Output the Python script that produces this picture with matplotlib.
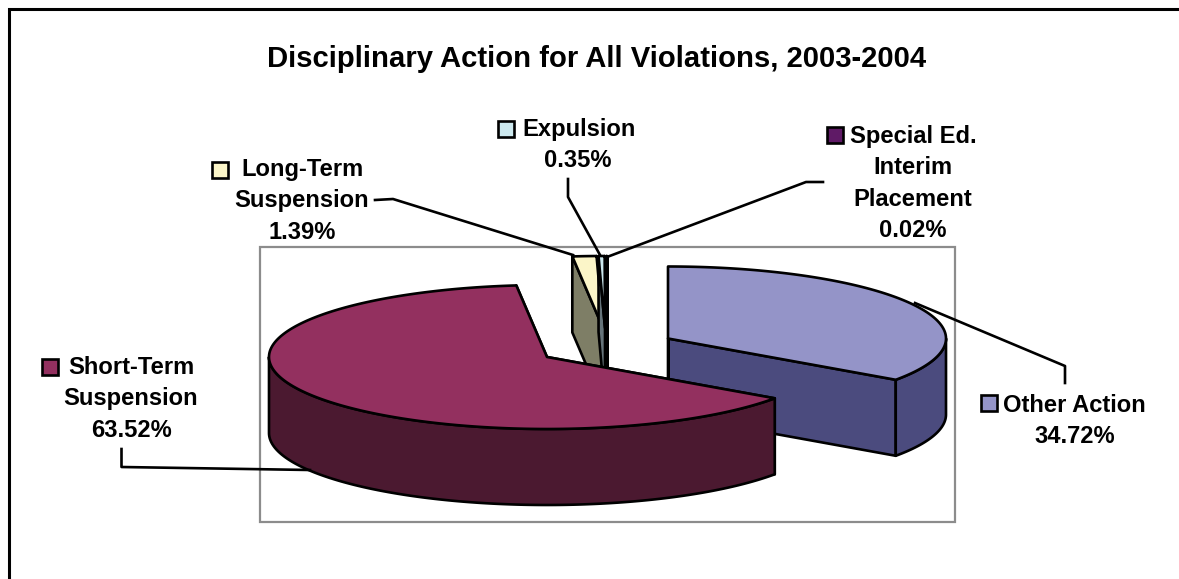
import numpy as np
import matplotlib
matplotlib.use('Agg')
import matplotlib.pyplot as plt
from matplotlib.patches import Polygon, Rectangle

plt.rcParams['font.family'] = ['Liberation Sans', 'DejaVu Sans']

# data, in the order the slices run clockwise from twelve o'clock
categories = ['Other Action', 'Short-Term Suspension', 'Long-Term Suspension',
              'Expulsion', 'Special Ed. Interim Placement']
shares = [34.72, 63.52, 1.39, 0.35, 0.02]
label_lines = [['Other Action', '34.72%'],
               ['Short-Term', 'Suspension', '63.52%'],
               ['Long-Term', 'Suspension', '1.39%'],
               ['Expulsion', '0.35%'],
               ['Special Ed.', 'Interim', 'Placement', '0.02%']]

# styles
top_colors = ['#9494c8', '#93305f', '#fbf5c8', '#cce8ee', '#5f1a66']
side_colors = ['#4b4b7e', '#4b1930', '#7e7e66', '#66747a', '#300d33']
stroke = 1.9

# layout, in pixels of the picture
centres = [(668, 338.5), (547, 357), (603, 328), (605, 328), (607, 328)]
rx, ry, depth = 278, 72, 76
key_boxes = [(981, 395), (42, 359), (212, 162), (498, 121), (827, 127)]
first_x = [1003, 68, 241, 522, 850]
first_base = [412, 374, 176, 136, 143]
rest_x = [1075, 131, 302, 578, 913]
line_gap = 31.4
leaders = [[(1065, 383), (1065, 366), (915, 303)],
           [(121.5, 449), (121.5, 467), (310, 470)],
           [(375, 200), (393, 199), (573, 255)],
           [(568, 179), (568, 197), (600, 255)],
           [(823, 182), (806, 182), (607, 257)]]

fig = plt.figure(figsize=(11.79, 5.79), dpi=100)
ax = fig.add_axes([0, 0, 1, 1])
ax.set_xlim(0, 1179)
ax.set_ylim(579, 0)
ax.axis('off')

# outer frame and plot area
ax.plot([8.5, 8.5, 1179], [579, 8.5, 8.5], color='black', lw=2.2, solid_joinstyle='miter')
ax.add_patch(Rectangle((260, 247), 695, 275, fill=False, ec='#8c8c8c', lw=1.6))


def rim(c, t):
    return np.column_stack([c[0] + rx * np.sin(t), c[1] - ry * np.cos(t)])


def draw_slice(c, t0, t1, top, side, z):
    edge = dict(ec='black', lw=stroke, joinstyle='round', zorder=z)
    apex = np.array(c, dtype=float)
    down = np.array([0, depth])
    # cut faces
    for t in (t1, t0):
        p = rim(c, np.array([t]))[0]
        ax.add_patch(Polygon([apex, p, p + down, apex + down], fc=side, **edge))
    # outer wall, only the front half of the ellipse shows
    a, b = max(t0, np.pi / 2), min(t1, 3 * np.pi / 2)
    if b > a:
        arc = rim(c, np.linspace(a, b, 200))
        ax.add_patch(Polygon(np.vstack([arc, (arc + down)[::-1]]), fc=side, **edge))
    # top surface
    arc = rim(c, np.linspace(t0, t1, 300))
    ax.add_patch(Polygon(np.vstack([apex, arc]), fc=top, **edge))


edges = np.radians(np.concatenate([[0], np.cumsum(shares)]) / np.sum(shares) * 360)
# painted back to front: thin slices, then Other Action, then Short-Term
for z, i in enumerate([2, 3, 4, 0, 1]):
    draw_slice(centres[i], edges[i], edges[i + 1], top_colors[i], side_colors[i], 3 + z)

for line in leaders:
    xs, ys = zip(*line)
    ax.plot(xs, ys, color='black', lw=stroke, zorder=10)

for i in range(len(categories)):
    kx, ky = key_boxes[i]
    ax.add_patch(Rectangle((kx, ky), 16, 16, fc=top_colors[i], ec='black', lw=stroke, zorder=11))
    for j, s in enumerate(label_lines[i]):
        y = first_base[i] + j * line_gap
        if j == 0:
            ax.text(first_x[i], y, s, ha='left', va='baseline', fontsize=17.1, fontweight='bold', zorder=11)
        else:
            ax.text(rest_x[i], y, s, ha='center', va='baseline', fontsize=17.1, fontweight='bold', zorder=11)

ax.text(597, 67, 'Disciplinary Action for All Violations, 2003-2004', ha='center', va='baseline',
        fontsize=21.1, fontweight='bold')

fig.savefig('out.png', dpi=100)
